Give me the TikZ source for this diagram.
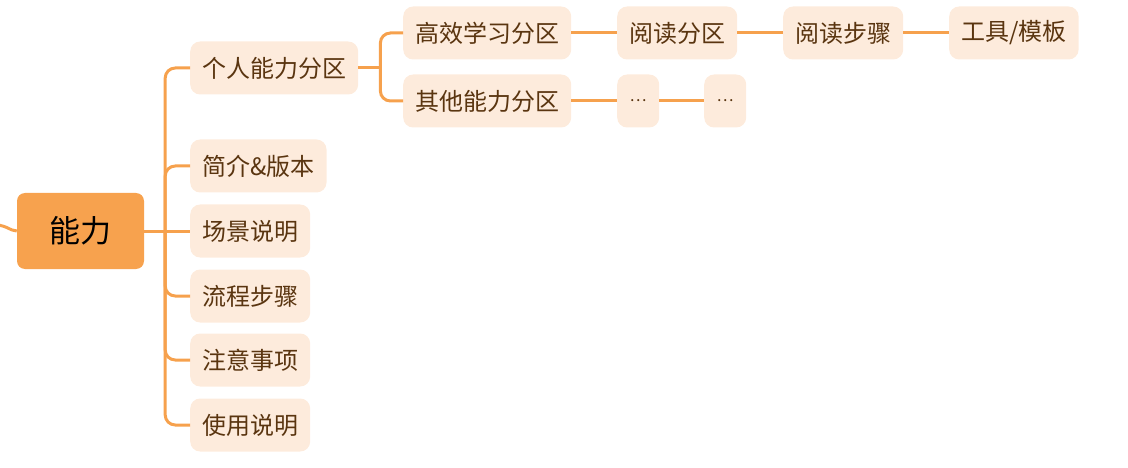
\documentclass[tikz,border=0pt]{standalone}
\usepackage{fontspec}
\setmainfont{Noto Sans CJK SC}
\usetikzlibrary{positioning}
\definecolor{rootfill}{HTML}{F7A24E}
\definecolor{leaffill}{HTML}{FDEBDC}
\definecolor{leaftext}{HTML}{5A3510}
\definecolor{linkcol}{HTML}{F6A14D}

\begin{document}
\begin{tikzpicture}[
  x=1pt,
  y=-1pt,
  link/.style={draw=linkcol, line width=3pt, rounded corners=10pt},
  root topic/.style={
    fill=rootfill,
    rounded corners=8pt,
    minimum width=127pt,
    minimum height=76pt,
    inner sep=0pt,
    font=\fontsize{31}{36}\selectfont
  },
  sub topic/.style={
    fill=leaffill,
    text=leaftext,
    rounded corners=10pt,
    minimum height=53pt,
    inner xsep=12pt,
    inner ysep=0pt,
    anchor=west,
    font=\fontsize{24}{28}\selectfont
  },
  dots topic/.style={sub topic, minimum width=42pt, font=\fontsize{16}{18}\selectfont}
]
  \useasboundingbox (0,0) rectangle (1128,468);

  % root and the branch coming in from the left
  \node[root topic] (ability) at (80.5,231) {能力};
  \coordinate (parentEnd) at (-14,224);
  \draw[link] (parentEnd) .. controls (8,224) and (9,231) .. (ability.west);

  % first level
  \coordinate (trunk) at ([xshift=21pt]ability.east);
  \node[sub topic] (scene) at (190,231) {场景说明};
  \draw[link] (ability.east) -- (scene.west);
  \foreach \nodeName/\yPos/\topicLabel in {personal/68/个人能力分区, intro/166/简介\&版本,
      flow/296/流程步骤, notes/360/注意事项, usage/425/使用说明} {
    \node[sub topic] (\nodeName) at (190,\yPos) {\topicLabel};
    \draw[link] (trunk) |- (\nodeName.west);
  }

  % second level
  \coordinate (fork) at ([xshift=22pt]personal.east);
  \draw[link] (personal.east) -- (fork);
  \node[sub topic] (study) at (403,33) {高效学习分区};
  \node[sub topic] (other) at (403,101) {其他能力分区};
  \draw[link] (fork) |- (study.west);
  \draw[link] (fork) |- (other.west);

  % chains
  \node[sub topic] (readZone) at (617,33) {阅读分区};
  \node[sub topic] (readSteps) at (783,33) {阅读步骤};
  \node[sub topic] (tools) at (949,33) {工具/模板};
  \draw[link] (study.east) -- (readZone.west);
  \draw[link] (readZone.east) -- (readSteps.west);
  \draw[link] (readSteps.east) -- (tools.west);

  \node[dots topic] (moreA) at (617,101) {…};
  \node[dots topic] (moreB) at (704,101) {…};
  \draw[link] (other.east) -- (moreA.west);
  \draw[link] (moreA.east) -- (moreB.west);
\end{tikzpicture}
\end{document}
